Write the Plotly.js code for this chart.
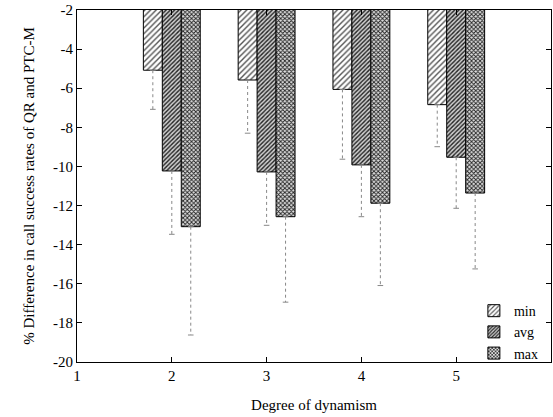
<!DOCTYPE html>
<html>
<head>
<meta charset="utf-8">
<script src="https://cdn.plot.ly/plotly-3.0.1.min.js"></script>
<style>html,body{margin:0;padding:0;background:#fff}#chart{width:553px;height:417px}</style>
</head>
<body>
<div id="chart"></div>
<script>
// ---- data ----
const categories = [2, 3, 4, 5];
const seriesNames = ["min", "avg", "max"];
const minVals = [-5.08, -5.58, -6.06, -6.84];
const minLow  = [-7.08, -8.30, -9.63, -8.99];
const avgVals = [-10.23, -10.28, -9.92, -9.53];
const avgLow  = [-13.47, -13.01, -12.57, -12.14];
const maxVals = [-13.08, -12.57, -11.88, -11.36];
const maxLow  = [-18.62, -16.94, -16.09, -15.24];
const yTickVals = [-20, -18, -16, -14, -12, -10, -8, -6, -4, -2];
const yTickText = ["-20", "-18", "-16", "-14", "-12", "-10", "-8", "-6", "-4", "-2"];
const xTickVals = [1, 2, 3, 4, 5, 6];
const xTickText = ["1", "2", "3", "4", "5", "6"];

// ---- styles ----
const barW = 0.2;
const patterns = [
  {shape: "/", fgcolor: "#555", bgcolor: "#fff", size: 4, solidity: 0.35},
  {shape: "/", fgcolor: "#222", bgcolor: "#d0d0d0", size: 3, solidity: 0.45},
  {shape: "x", fgcolor: "#222", bgcolor: "#e0e0e0", size: 3, solidity: 0.5}
];
const vals = [minVals, avgVals, maxVals];
const lows = [minLow, avgLow, maxLow];

const traces = [];
vals.forEach((v, i) => {
  traces.push({
    type: "bar", name: seriesNames[i], x: categories, y: v,
    marker: {color: "#fff", pattern: patterns[i], line: {color: "#000", width: 1}},
    showlegend: true
  });
});
vals.forEach((v, i) => {
  const xs = [], ys = [];
  categories.forEach((c, k) => {
    const xc = c + (i - 1) * barW;
    xs.push(xc, xc, null);
    ys.push(v[k], lows[i][k], null);
  });
  traces.push({
    type: "scatter", mode: "lines+markers", x: xs, y: ys, showlegend: false,
    line: {color: "#888", width: 1, dash: "dot"},
    marker: {symbol: "line-ew", size: 4, line: {color: "#888", width: 1}},
    hoverinfo: "skip"
  });
});

const font = {family: "Liberation Serif", size: 15, color: "#000"};
const legFont = {family: "Liberation Serif", size: 14, color: "#000"};
const layout = {
  width: 553, height: 417,
  margin: {l: 77, r: 2, t: 10, b: 55},
  paper_bgcolor: "#fff", plot_bgcolor: "#fff",
  font: font,
  barmode: "group", bargap: 0.4, bargroupgap: 0,
  showlegend: true,
  legend: {x: 0.985, y: 0.085, xanchor: "right", yanchor: "middle",
           bgcolor: "rgba(0,0,0,0)", font: legFont, tracegroupgap: 0, itemwidth: 30},
  xaxis: {
    range: [1, 6], tickvals: xTickVals, ticktext: xTickText,
    ticks: "inside", ticklen: 5, tickcolor: "#000",
    showline: true, mirror: "ticks", linecolor: "#000", linewidth: 1,
    showgrid: false, zeroline: false, tickfont: font,
    title: {text: "Degree of dynamism", font: font, standoff: 16}
  },
  yaxis: {
    range: [-20, -2], tickvals: yTickVals, ticktext: yTickText,
    ticks: "inside", ticklen: 5, tickcolor: "#000",
    showline: true, mirror: "ticks", linecolor: "#000", linewidth: 1,
    showgrid: false, zeroline: false, tickfont: font,
    title: {text: "% Difference in call success rates of QR and PTC-M", font: font, standoff: 14}
  }
};
Plotly.newPlot("chart", traces, layout, {displayModeBar: false, staticPlot: true});
</script>
</body>
</html>
